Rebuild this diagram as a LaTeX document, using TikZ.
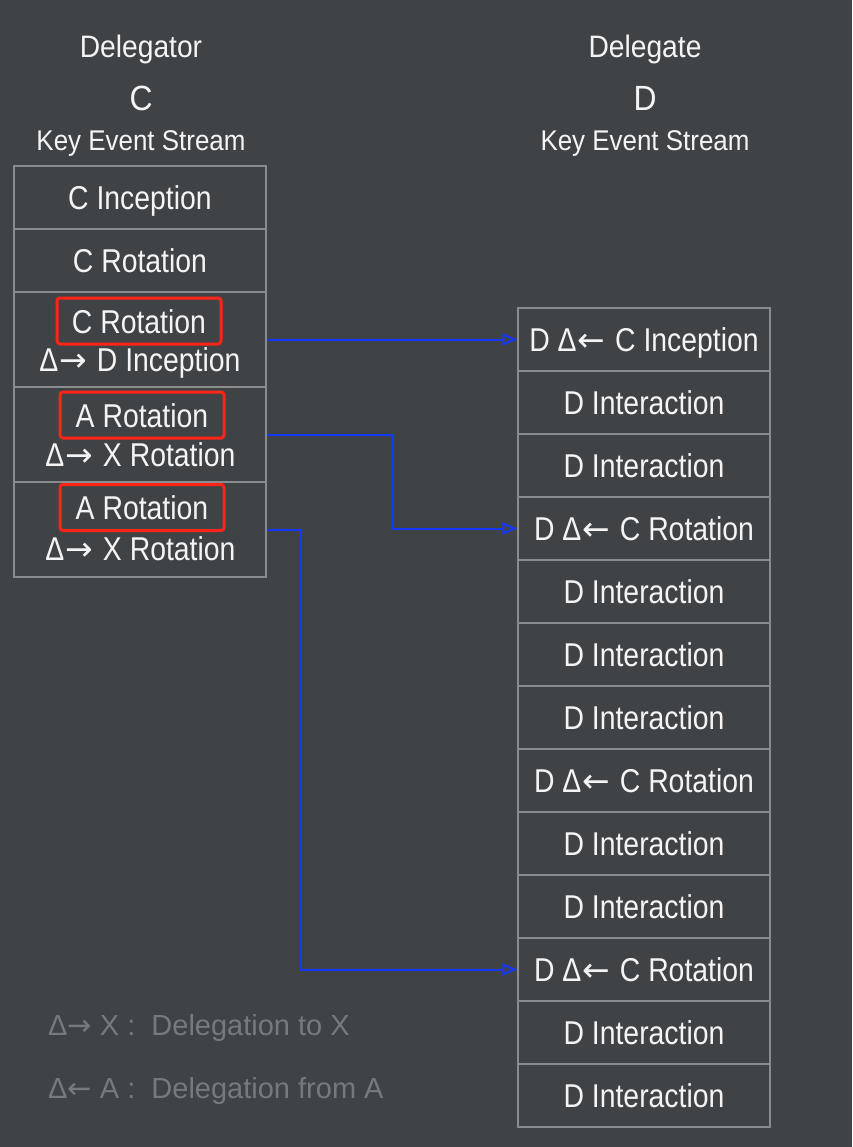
\documentclass[tikz,border=0pt]{standalone}
\usepackage{fontspec}
\setmainfont{Liberation Sans}[FakeStretch=0.86]
\newfontfamily\headfont{Liberation Sans}[FakeStretch=0.91]
\newfontfamily\legfont{Liberation Sans}
\newfontfamily\arrowfont{DejaVu Sans}
\usetikzlibrary{arrows.meta,positioning}
\definecolor{kelbg}{HTML}{404346}
\definecolor{kelgrid}{HTML}{8A8C8E}
\definecolor{keltext}{HTML}{F4F4F4}
\definecolor{kelred}{HTML}{FF2418}
\definecolor{kelblue}{HTML}{1438FF}
\definecolor{kelmute}{HTML}{76797D}
\newcommand\rarr{\kern1pt{\arrowfont →}\kern2pt}
\newcommand\larr{\kern1pt{\arrowfont ←}\kern2pt}

\begin{document}
\begin{tikzpicture}[
  x=1pt, y=-1pt,
  cell/.style={draw=kelgrid, line width=1.5pt, text=keltext,
               minimum width=252pt, minimum height=63pt, inner sep=0pt,
               font=\fontsize{33}{36}\selectfont, text height=24pt, text depth=0pt},
  tall/.style={cell, minimum height=95pt},
  txt/.style={text=keltext, inner sep=0pt,
              font=\fontsize{33}{36}\selectfont, text height=24pt, text depth=0pt},
  hl/.style={txt, draw=kelred, line width=3pt, rounded corners=3pt,
             minimum width=164pt, minimum height=46pt},
  head/.style={text=keltext, inner sep=0pt,
               font=\headfont\fontsize{31}{34}\selectfont, text height=22.5pt, text depth=0pt},
  big/.style={text=keltext, inner sep=0pt,
              font=\headfont\fontsize{35}{38}\selectfont, text height=25.5pt, text depth=0pt},
  kes/.style={text=keltext, inner sep=0pt,
              font=\headfont\fontsize{28.5}{32}\selectfont, text height=21pt, text depth=0pt},
  leg/.style={text=kelmute, inner sep=0pt, anchor=west,
              font=\legfont\fontsize{29}{32}\selectfont, text height=21pt, text depth=0pt},
  dlg/.style={-{Triangle[open, length=15pt, width=12pt]}, kelblue, line width=2pt},
]
\fill[kelbg] (0,0) rectangle (852,1147);
\useasboundingbox (0,0) rectangle (852,1147);

% ---------------- headings -----------------------------------------
\node[head] (lhead) at (141,46) {Delegator};
\node[big]  (lname) at (141,98) {C};
\node[kes]  (lkes)  at (141,140.5) {Key Event Stream};

\node[head] (rhead) at (645,46) {Delegate};
\node[big]  (rname) at (645,98) {D};
\node[kes]  (rkes)  at (645,140.5) {Key Event Stream};

% ---------------- delegator stream ---------------------------------
\node[cell] (c1) at (140,197.5) {C Inception};
\node[cell] (c2) at (140,260.5) {C Rotation};
\node[tall] (c3) at (140,339.5) {};
\node[tall] (c4) at (140,434.5) {};
\node[tall] (c5) at (140,529.5) {};

\node[hl]  (c3a) at (139,321) {C Rotation};
\node[txt] (c3b) at (140,359.5) {Δ\rarr\ D Inception};
\node[hl]  (c4a) at (142,415) {A Rotation};
\node[txt] (c4b) at (140.5,454) {Δ\rarr\ X Rotation};
\node[hl]  (c5a) at (142,507.5) {A Rotation};
\node[txt] (c5b) at (140.5,548) {Δ\rarr\ X Rotation};

% ---------------- delegate stream ----------------------------------
\node[cell] (d1)  at (644,339.5) {D Δ\larr\ C Inception};
\node[cell] (d2)  at (644,402.5) {D Interaction};
\node[cell] (d3)  at (644,465.5) {D Interaction};
\node[cell] (d4)  at (644,528.5) {D Δ\larr\ C Rotation};
\node[cell] (d5)  at (644,591.5) {D Interaction};
\node[cell] (d6)  at (644,654.5) {D Interaction};
\node[cell] (d7)  at (644,717.5) {D Interaction};
\node[cell] (d8)  at (644,780.5) {D Δ\larr\ C Rotation};
\node[cell] (d9)  at (644,843.5) {D Interaction};
\node[cell] (d10) at (644,906.5) {D Interaction};
\node[cell] (d11) at (644,969.5) {D Δ\larr\ C Rotation};
\node[cell] (d12) at (644,1032.5) {D Interaction};
\node[cell] (d13) at (644,1095.5) {D Interaction};

% ---------------- delegation links ---------------------------------
\draw[dlg] (c3.east) -- (d1.west);
\draw[dlg] (c4.east) -- ++(126,0) |- (d4.west);
\draw[dlg] (c5.east) -- ++(34,0) |- (d11.west);

% ---------------- legend -------------------------------------------
\node[leg] (leg1) at (48,1025) {Δ{\arrowfont →} X :~~Delegation to X};
\node[leg] (leg2) at (48,1088) {Δ{\arrowfont ←} A :~~Delegation from A};

\end{tikzpicture}
\end{document}
